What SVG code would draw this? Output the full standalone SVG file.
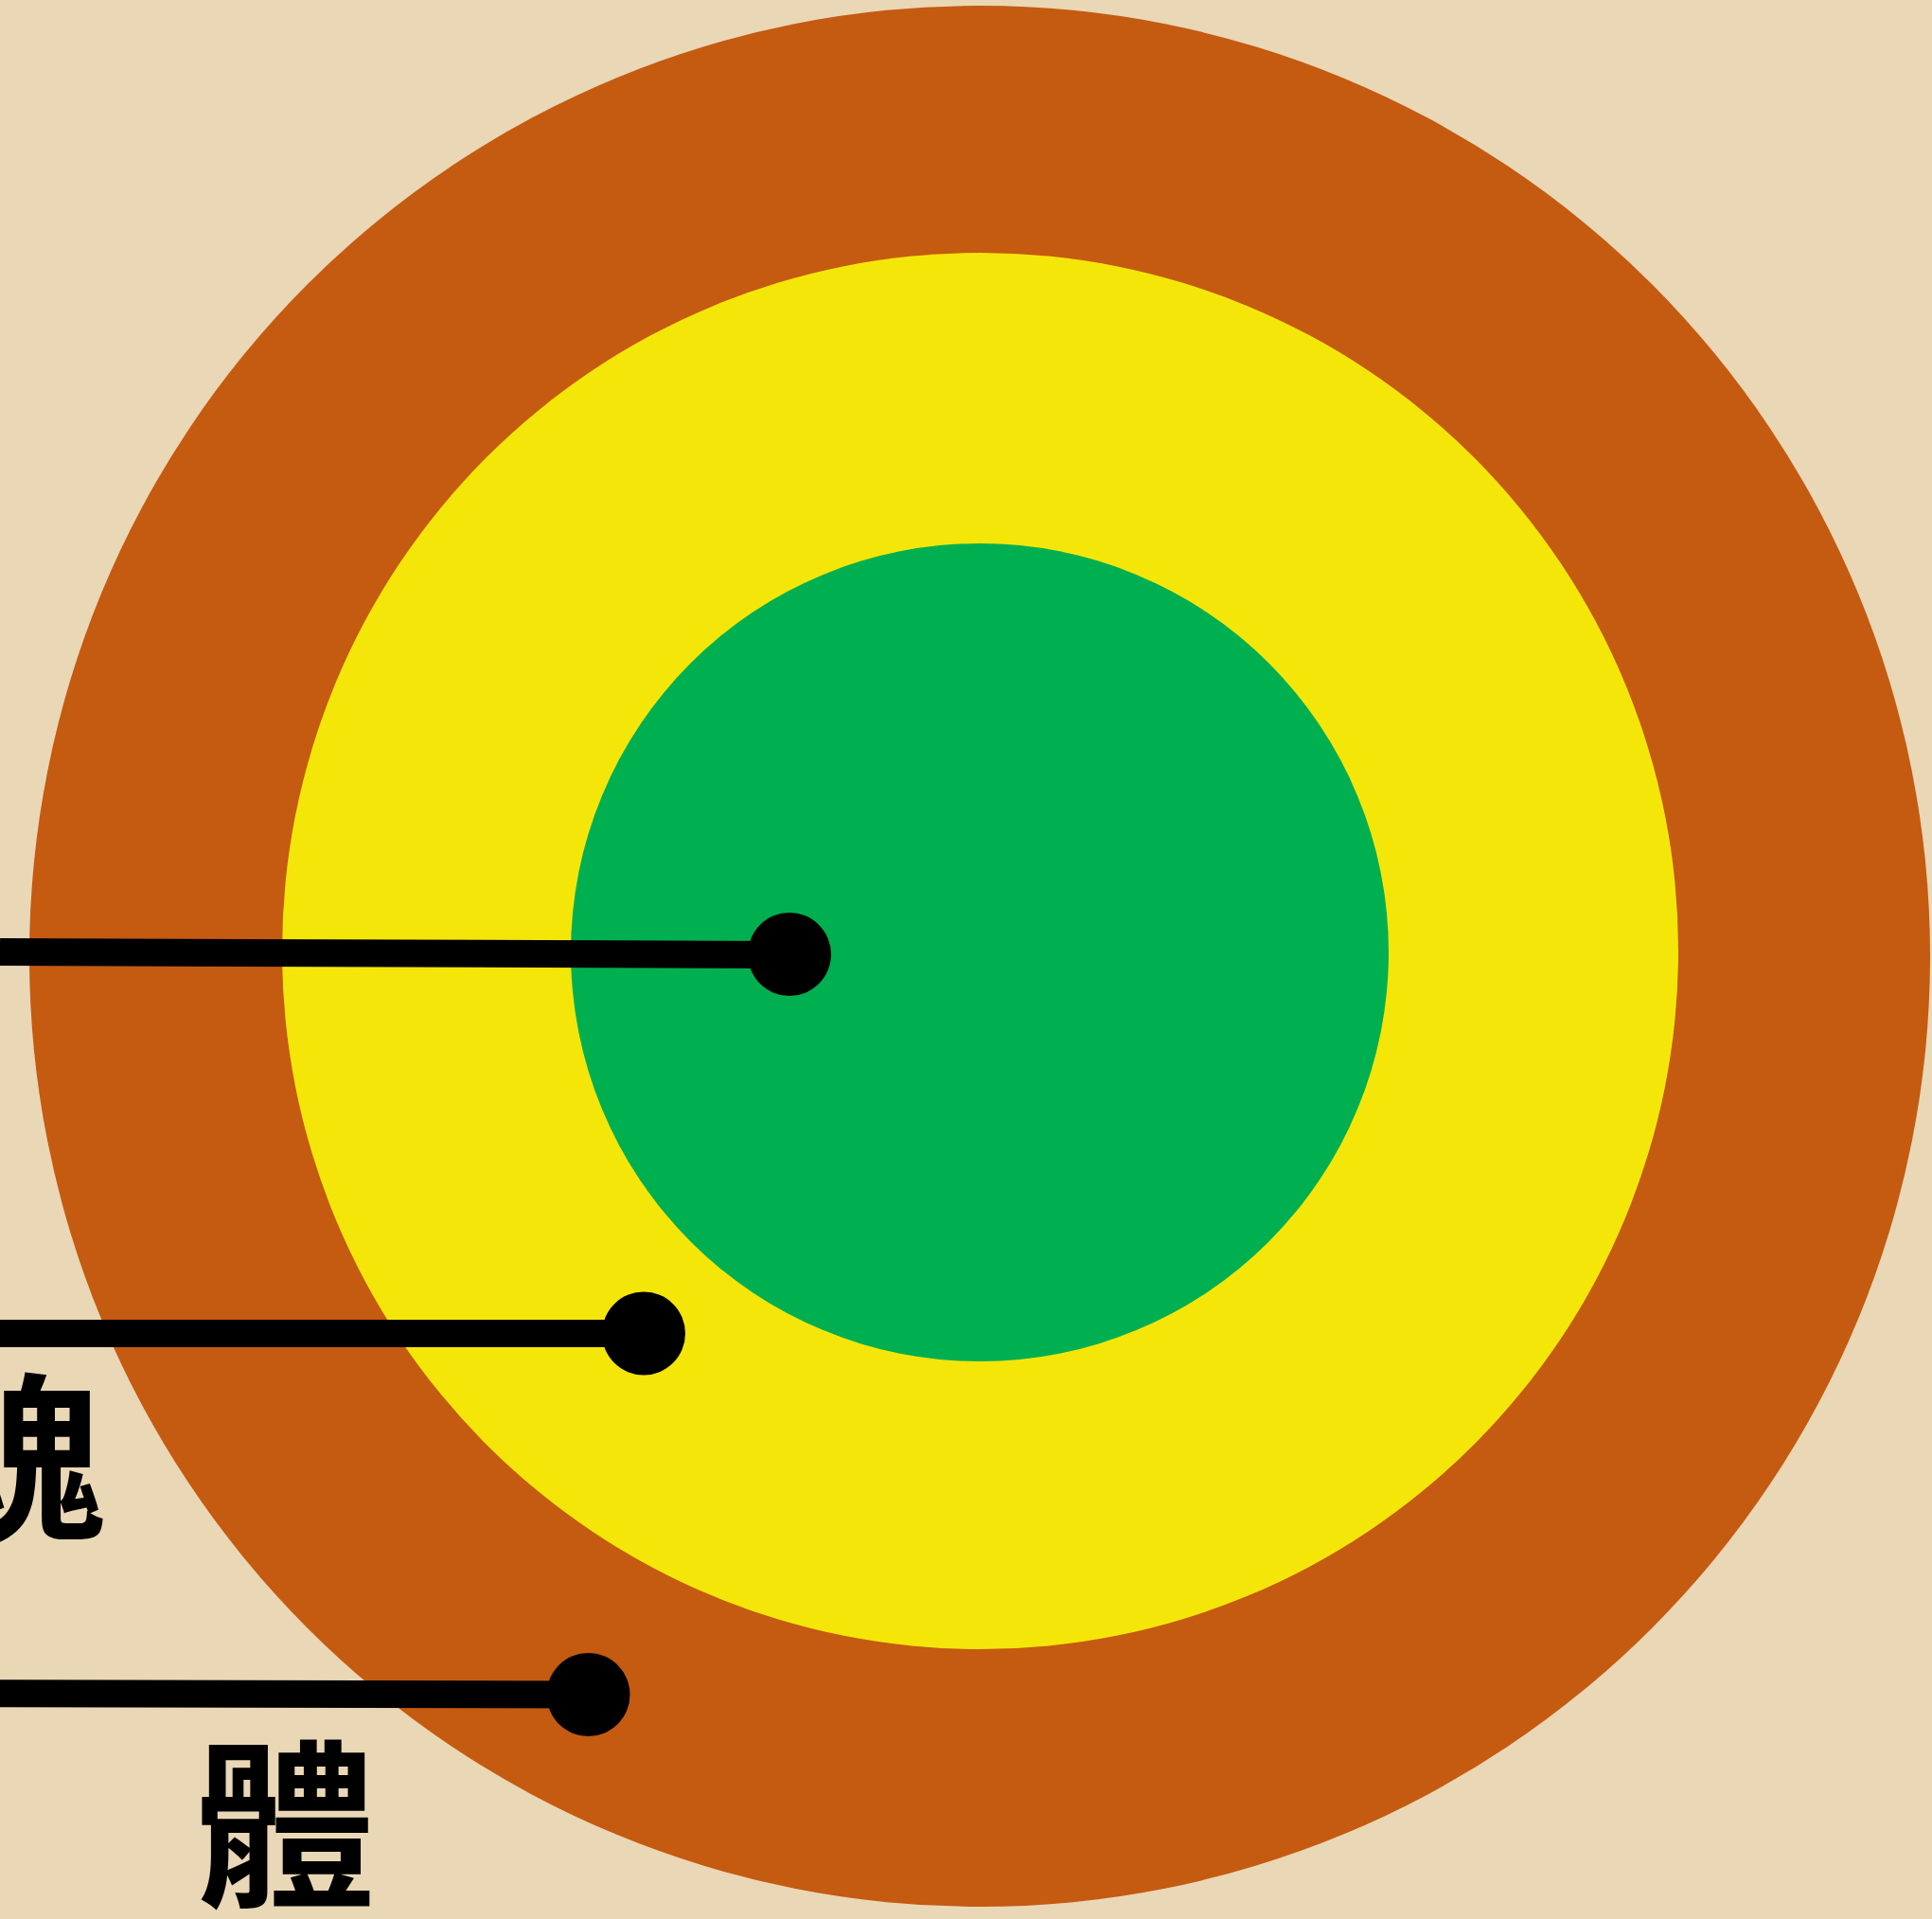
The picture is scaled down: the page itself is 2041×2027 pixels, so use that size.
<svg xmlns="http://www.w3.org/2000/svg" width="2041" height="2027" viewBox="0 0 2041 2027">
  <style>
    .lbl { font-family: "Noto Sans CJK TC", "Noto Sans CJK SC", sans-serif; font-weight: 700; font-size: 190px; fill: #000; }
    .conn { stroke: #000; stroke-width: 29; fill: none; }
    .dot { fill: #000; }
  </style>
  <rect x="0" y="0" width="2041" height="2027" fill="#E9D7B6"/>
  <g id="ring-outer"><circle cx="1035" cy="1010" r="1004" fill="#C55A11"/></g>
  <g id="ring-middle"><circle cx="1035.5" cy="1004.5" r="737.5" fill="#F5E60A"/></g>
  <g id="ring-inner"><circle cx="1035" cy="1006" r="432" fill="#00B050"/></g>
  <g id="connectors">
    <line class="conn" x1="0" y1="1005.5" x2="834" y2="1008.5"/>
    <circle class="dot" cx="834" cy="1008" r="44"/>
    <line class="conn" x1="0" y1="1408.5" x2="680" y2="1408.5"/>
    <circle class="dot" cx="680" cy="1408.5" r="44"/>
    <line class="conn" x1="0" y1="1788.7" x2="621" y2="1790"/>
    <circle class="dot" cx="621.5" cy="1790" r="44"/>
  </g>
  <g id="label-soul"><text class="lbl" x="111" y="1612" text-anchor="end">魂</text></g>
  <g id="label-body"><text class="lbl" x="206" y="1999">體</text></g>
</svg>
